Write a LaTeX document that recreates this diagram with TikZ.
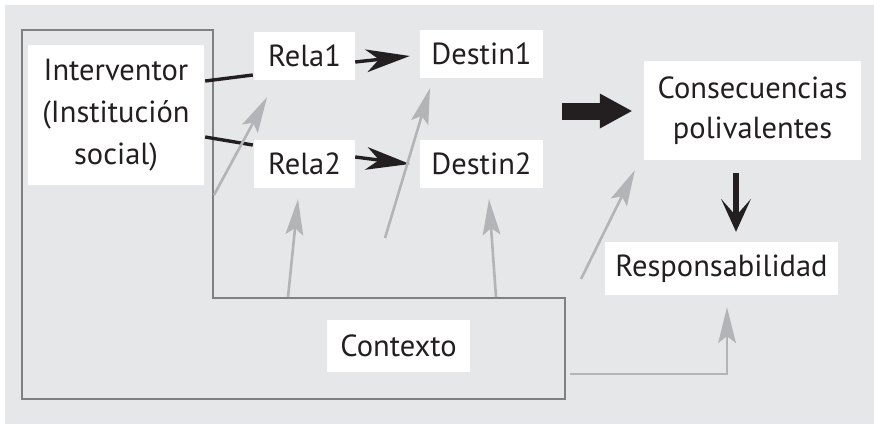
\documentclass[tikz,border=0pt]{standalone}
\usepackage{fontspec}
\setmainfont{PT Sans}
\usetikzlibrary{arrows.meta,calc}
\definecolor{bg}{HTML}{E6E7E9}
\definecolor{framec}{HTML}{7F8082}
\definecolor{garrow}{HTML}{B2B4B7}
\definecolor{ink}{HTML}{231F20}
\begin{document}
\begin{tikzpicture}[x=1pt,y=-1pt,
  box/.style={fill=white, inner sep=0pt, text=ink, font=\fontsize{30.5}{42}\selectfont, align=center},
  gline/.style={draw=garrow, line width=2.6pt, -{Stealth[length=36pt,width=18pt,inset=7pt,line width=0pt]}},
  kline/.style={draw=ink, line width=3.4pt},
  karrow/.style={kline, -{Stealth[length=44pt,width=23pt,inset=13pt,line width=0pt]}},
]
\useasboundingbox (0,0) rectangle (874,424);
\fill[bg] (5,5) rectangle (874,424);
\draw[framec, line width=2.6pt, line join=miter] (22,30) -- (213,30) -- (213,298) -- (565,298) -- (565,399) -- (22,399) -- cycle;

\node[box, minimum width=176pt, minimum height=140pt] (interv) at (116,115) {Interventor\\(Institución\\social)};
\node[box, minimum width=101pt, minimum height=48pt] (rela1) at (304.5,56) {Rela1};
\node[box, minimum width=123pt, minimum height=48pt] (destin1) at (481.5,54) {Destin1};
\node[box, minimum width=101pt, minimum height=48pt] (rela2) at (304.5,164) {Rela2};
\node[box, minimum width=123pt, minimum height=48pt] (destin2) at (481.5,164) {Destin2};
\node[box, minimum width=217pt, minimum height=99pt, font=\fontsize{30.5}{40}\selectfont] (cons) at (752.5,110.5) {Consecuencias\\polivalentes};
\node[box, minimum width=233pt, minimum height=53pt] (resp) at (721.5,268.5) {Responsabilidad};
\node[box, minimum width=143pt, minimum height=52pt] (ctx) at (398.5,346) {Contexto};

\coordinate (g1s) at (214,195);
\coordinate (g2s) at (385,238);
\coordinate (g3s) at (288,297);
\coordinate (g4s) at (496,297);
\coordinate (g5s) at (581,279);
\coordinate (g6s) at (570,374);
\coordinate (bigs) at (562,111);

% black links
\draw[kline] ($(interv.east)+(1,-34)$) -- ($(rela1.west)+(-1,19)$);
\draw[kline] ($(interv.east)+(1,22)$) -- ($(rela2.west)+(-1,-19)$);
\draw[karrow] ($(rela1.east)+(0,6)$) -- ($(destin1.west)+(-10,2)$);
\draw[karrow] ($(rela2.east)+(0,-7)$) -- ($(destin2.west)+(-10,0)$);

% gray influences
\draw[gline] (g1s) -- ($(rela1.south)+(-37.5,17)$);
\draw[gline] (g2s) -- ($(destin1.south)+(-51.5,10)$);
\draw[gline] (g3s) -- ($(rela2.south)+(-6.5,11)$);
\draw[gline] (g4s) -- ($(destin2.south)+(7.5,11)$);
\draw[gline] (g5s) -- ($(cons.south west)+(-9,10)$);
\draw[gline] (g6s) -| ($(resp.south)+(5.5,12)$);

% big arrows
\draw[ink, line width=17pt, -{Triangle[length=32pt,width=35pt,line width=0pt]}] (bigs) -- ($(cons.west)+(-12,0.5)$);
\draw[ink, line width=6.5pt, -{Stealth[length=33pt,width=30pt,inset=17pt,line width=0pt]}] ($(cons.south)+(-16.5,13)$) -- ($(resp.north)+(14.5,-10)$);
\end{tikzpicture}
\end{document}
